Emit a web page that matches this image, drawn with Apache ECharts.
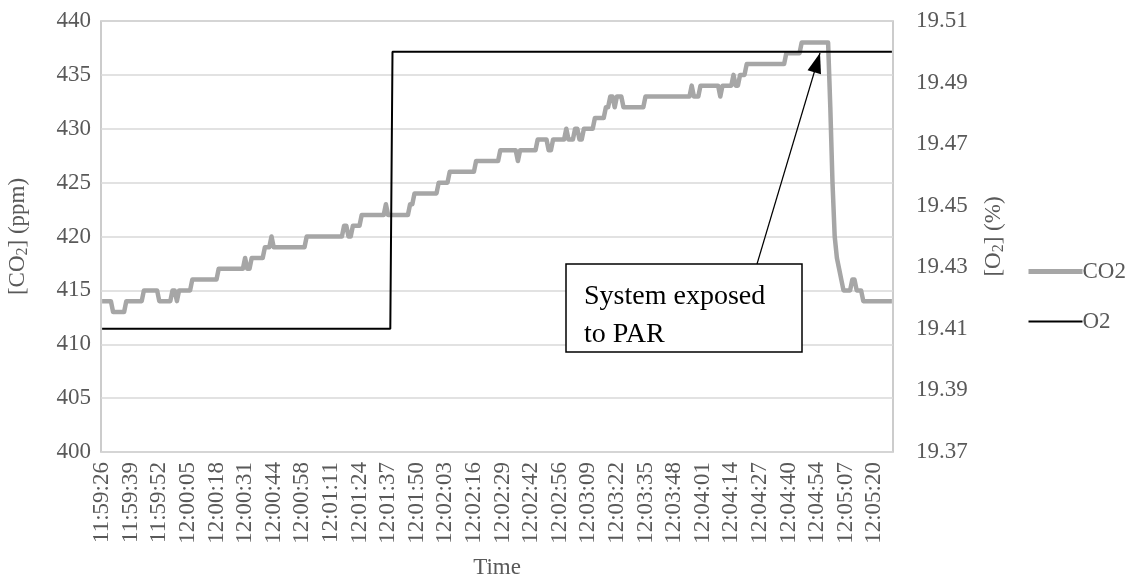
<!DOCTYPE html>
<html>
<head>
<meta charset="utf-8">
<script src="https://cdn.jsdelivr.net/npm/echarts@6.0.0/dist/echarts.min.js"></script>
<style>
  html, body { margin: 0; padding: 0; background: #fff; }
  #chart { width: 1134px; height: 579px; }
</style>
</head>
<body>
<div id="chart"></div>
<script>
// CO2 (ppm), one reading per time stamp
var co2Values = [
  414,414,414,414,414,413,413,413,413,413, 413,414,414,414,414,414,414,414,414,415,
  415,415,415,415,415,415,414,414,414,414, 414,414,415,415,414,415,415,415,415,415,
  415,416,416,416,416,416,416,416,416,416, 416,416,416,417,417,417,417,417,417,417,
  417,417,417,417,417,418,417,417,418,418, 418,418,418,418,419,419,419,420,419,419,
  419,419,419,419,419,419,419,419,419,419, 419,419,419,420,420,420,420,420,420,420,
  420,420,420,420,420,420,420,420,420,420, 421,421,420,420,421,421,421,421,422,422,
  422,422,422,422,422,422,422,422,422,423, 422,422,422,422,422,422,422,422,422,422,
  423,423,424,424,424,424,424,424,424,424, 424,424,424,425,425,425,425,425,426,426,
  426,426,426,426,426,426,426,426,426,426, 427,427,427,427,427,427,427,427,427,427,
  427,428,428,428,428,428,428,428,428,427, 428,428,428,428,428,428,428,428,429,429,
  429,429,429,428,428,429,429,429,429,429, 429,430,429,429,429,430,430,429,429,430,
  430,430,430,430,431,431,431,431,431,432, 432,433,433,432,433,433,433,432,432,432,
  432,432,432,432,432,432,432,433,433,433, 433,433,433,433,433,433,433,433,433,433,
  433,433,433,433,433,433,433,433,434,433, 433,433,434,434,434,434,434,434,434,434,
  434,433,434,434,434,434,434,435,434,434, 435,435,435,436,436,436,436,436,436,436,
  436,436,436,436,436,436,436,436,436,436, 436,437,437,437,437,437,437,437,438,438,
  438,438,438,438,438,438,438,438,438,438, 438,432,425,420,418,417,416,415,415,415,
  415,416,416,415,415,415,414,414,414,414, 414,414,414,414,414,414,414,414,414,414
];

// O2 (%): [time index, value] at the ends of each flat part
var o2Points = [[0, 19.41], [131, 19.41], [132, 19.50], [359, 19.50]];

// time stamps: one per second, some seconds missing in the log
var startTime = '11:59:26';
var missingSeconds = ['12:00:51', '12:02:49', '12:04:47'];

var timeTicks = ['11:59:26','11:59:39','11:59:52','12:00:05','12:00:18','12:00:31','12:00:44',
  '12:00:58','12:01:11','12:01:24','12:01:37','12:01:50','12:02:03','12:02:16','12:02:29',
  '12:02:42','12:02:56','12:03:09','12:03:22','12:03:35','12:03:48','12:04:01','12:04:14',
  '12:04:27','12:04:40','12:04:54','12:05:07','12:05:20'];
var co2Ticks = [400, 405, 410, 415, 420, 425, 430, 435, 440];
var o2Ticks = [19.37, 19.39, 19.41, 19.43, 19.45, 19.47, 19.49, 19.51];

function pad(n){ return (n < 10 ? '0' : '') + n }
function buildTimes(){
  var p = startTime.split(':')
  var s = (+p[0]) * 3600 + (+p[1]) * 60 + (+p[2])
  var list = []
  while(list.length < co2Values.length){
    var t = pad(Math.floor(s / 3600)) + ':' + pad(Math.floor(s / 60) % 60) + ':' + pad(s % 60)
    if(missingSeconds.indexOf(t) < 0) list.push(t)
    s++
  }
  return list
}
var times = buildTimes()

var font = '"Liberation Serif", "Times New Roman", serif'
var txt = '#595959'
var fs = 23

// arrow of the note box
var arrowFrom = [757, 264], arrowTo = [820, 53]
function arrowHead(){
  var dx = arrowTo[0] - arrowFrom[0], dy = arrowTo[1] - arrowFrom[1]
  var len = Math.sqrt(dx * dx + dy * dy), ux = dx / len, uy = dy / len
  var bx = arrowTo[0] - ux * 20, by = arrowTo[1] - uy * 20
  return [arrowTo, [bx - uy * 7, by + ux * 7], [bx + uy * 7, by - ux * 7]]
}

var myChart = echarts.init(document.getElementById('chart'))
var option = {
  animation: false,
  backgroundColor: '#fff',
  grid: {
    left: 101, right: 241, top: 21, bottom: 127,
    outerBoundsMode: 'none',
    show: true, borderColor: '#bcbcbc', borderWidth: 1.5
  },
  legend: {
    orient: 'vertical',
    left: 1026, top: 260,
    padding: 0,
    itemWidth: 54, itemHeight: 14, itemGap: 27,
    itemStyle: { opacity: 0 },
    textStyle: { fontFamily: font, fontSize: fs, color: txt, padding: [0, 0, 0, -5] },
    data: [
      { name: 'CO2', lineStyle: { width: 5, color: '#a6a6a6' } },
      { name: 'O2', lineStyle: { width: 2, color: '#000' } }
    ]
  },
  xAxis: {
    type: 'category',
    data: times,
    name: 'Time',
    nameLocation: 'middle',
    nameGap: 104,
    nameTextStyle: { fontFamily: font, fontSize: fs, color: txt },
    axisLine: { show: false },
    axisTick: { show: false },
    axisLabel: {
      rotate: 90,
      margin: 10,
      fontFamily: font, fontSize: fs, color: txt,
      interval: function(index, value){ return timeTicks.indexOf(value) >= 0 }
    },
    splitLine: { show: false }
  },
  yAxis: [
    {
      type: 'value',
      min: 400, max: 440, interval: 5,
      name: '[CO{sub|2}] (ppm)',
      nameLocation: 'middle',
      nameRotate: 90,
      nameGap: 70,
      nameTextStyle: {
        fontFamily: font, fontSize: fs, color: txt,
        rich: { sub: { fontFamily: font, fontSize: 16, color: txt, padding: [10, 0, 0, 0] } }
      },
      axisLine: { show: false },
      axisTick: { show: false },
      axisLabel: {
        margin: 10, fontFamily: font, fontSize: fs, color: txt,
        customValues: co2Ticks
      },
      splitLine: { lineStyle: { color: '#d9d9d9', width: 1.5 } }
    },
    {
      type: 'value',
      min: 19.37, max: 19.51,
      name: '[O{sub|2}] (%)',
      nameLocation: 'middle',
      nameRotate: 90,
      nameGap: 88,
      nameTextStyle: {
        fontFamily: font, fontSize: fs, color: txt,
        rich: { sub: { fontFamily: font, fontSize: 16, color: txt, padding: [10, 0, 0, 0] } }
      },
      axisLine: { show: false },
      axisTick: { show: false },
      axisLabel: {
        margin: 23, fontFamily: font, fontSize: fs, color: txt,
        customValues: o2Ticks,
        formatter: function(v){ return v.toFixed(2) }
      },
      splitLine: { show: false }
    }
  ],
  series: [
    {
      name: 'CO2',
      type: 'line',
      yAxisIndex: 0,
      data: co2Values,
      symbol: 'none',
      lineStyle: { color: '#a6a6a6', width: 4.5, join: 'round' },
      itemStyle: { color: '#a6a6a6' },
      z: 3
    },
    {
      name: 'O2',
      type: 'line',
      yAxisIndex: 1,
      data: o2Points,
      symbol: 'none',
      lineStyle: { color: '#000', width: 2 },
      itemStyle: { color: '#000' },
      z: 4
    }
  ],
  graphic: [
    {
      type: 'line', z: 100,
      shape: { x1: arrowFrom[0], y1: arrowFrom[1], x2: arrowTo[0], y2: arrowTo[1] },
      style: { stroke: '#000', lineWidth: 1.2 }
    },
    {
      type: 'polygon', z: 100,
      shape: { points: arrowHead() },
      style: { fill: '#000' }
    },
    {
      type: 'rect', z: 101,
      shape: { x: 566, y: 264, width: 236, height: 88 },
      style: { fill: '#fff', stroke: '#000', lineWidth: 1.5 }
    },
    {
      type: 'text', z: 102,
      x: 584, y: 278,
      style: {
        text: 'System exposed\nto PAR',
        font: '28px "Liberation Serif"',
        lineHeight: 38,
        fill: '#000'
      }
    }
  ]
}
myChart.setOption(option)
</script>
</body>
</html>
